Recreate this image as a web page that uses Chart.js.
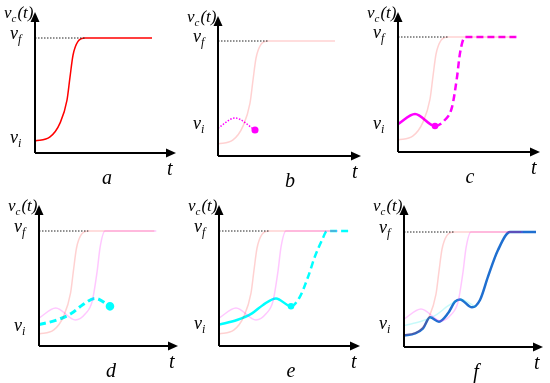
<!DOCTYPE html>
<html>
<head>
<meta charset="utf-8">
<script src="https://cdn.jsdelivr.net/npm/chart.js@4/dist/chart.umd.min.js"></script>
<style>
  body { margin: 0; background: #fff; }
  #wrap { position: relative; width: 550px; height: 383px; }
  #wrap canvas { position: absolute; }
</style>
</head>
<body>
<div id="wrap"></div>
<script>
// Curve data (t, v); v_f = 10
const redT = [0, 1.5, 2.5, 3.2, 3.5, 3.8, 4.3, 5, 11.7];
const redV = [1.04, 1.4, 2.6, 4.6, 6.6, 8.5, 9.7, 10, 10];

const magT = [0, 1.7, 3.7, 4.7, 5.4, 5.9, 6.2, 6.7, 11.9];
const magV = [2.43, 3.3, 2.26, 2.8, 3.9, 6.5, 8.6, 10, 10];
const magSplit = 2; // dashed after this point

const cyanT = [0, 1.8, 3.3, 4.4, 5.7, 7.2, 8.1, 8.9, 9.6, 10.3, 10.8, 13.3];
const cyanV = [1.86, 2.26, 2.84, 3.57, 4.14, 3.45, 4.3, 6.0, 7.8, 9.2, 10, 10];
const cyanSplit = 5;

const blueT = [0, 1.1, 1.9, 2.6, 3.5, 4.4, 5.1, 5.6, 6.8, 7.6, 8.4, 9.4, 10.6, 13.2];
const blueV = [0.99, 1.19, 1.62, 2.58, 2.2, 2.93, 3.94, 4.14, 3.45, 4.09, 6.12, 8.43, 10, 10];

const guideT = [0, 5];
const guideV = [10, 10];

const panelLetters = ["a", "b", "c", "d", "e", "f"];
const viLevels = [0.96, 2.43, 2.1, 1.4, 1.56, 1.65];
const vf = 10;

const FONT = '"Liberation Serif", "DejaVu Serif", serif';

function pts(T, V, n) {
  const k = n === undefined ? T.length : n;
  return T.slice(0, k).map((t, i) => ({ x: t, y: V[i] }));
}

const guide = () => ({
  data: pts(guideT, guideV), borderColor: "#222", borderWidth: 1, borderDash: [1.5, 1.5]
});
const fadedRed = () => ({ data: pts(redT, redV), borderColor: "rgba(255,0,0,0.18)", borderWidth: 1.5 });
const fadedMag = () => ({ data: pts(magT, magV), borderColor: "rgba(255,0,255,0.22)", borderWidth: 1.5 });
const fadedCyan = () => ({ data: pts(cyanT, cyanV, cyanSplit + 1), borderColor: "rgba(0,230,230,0.22)", borderWidth: 1.5 });

// dashed after split index, dot at split
function splitLine(T, V, split, color, width, n) {
  return {
    data: pts(T, V, n),
    borderColor: color, backgroundColor: color, borderWidth: width,
    segment: { borderDash: c => c.p0DataIndex >= split ? [7, 4] : undefined },
    pointRadius: c => c.dataIndex === split ? 2 : 0
  };
}

const panels = [
  { left: 0, top: 0, w: 185, h: 190, pad: { left: 35, right: 9, top: 12, bottom: 37 },
    sets: [guide(), { data: pts(redT, redV), borderColor: "#ff0000", borderWidth: 1.5 }] },
  { left: 185, top: 0, w: 185, h: 190, pad: { left: 33, right: 9, top: 16, bottom: 34 },
    sets: [guide(), fadedRed(),
      { data: pts(magT, magV, magSplit + 1), borderColor: "#ff00ff", backgroundColor: "#ff00ff",
        borderWidth: 1.5, borderDash: [1.5, 1.5], pointRadius: c => c.dataIndex === magSplit ? 2.8 : 0 }] },
  { left: 365, top: 0, w: 185, h: 190, pad: { left: 33, right: 10, top: 12, bottom: 38 },
    sets: [guide(), fadedRed(), splitLine(magT, magV, magSplit, "#ff00ff", 2.5)] },
  { left: 0, top: 190, w: 185, h: 193, pad: { left: 39, right: 5, top: 15, bottom: 37 },
    sets: [guide(), fadedRed(), fadedMag(),
      { data: pts(cyanT, cyanV, cyanSplit + 1), borderColor: "#00ffff", backgroundColor: "#00ffff",
        borderWidth: 3, borderDash: [7, 4], pointRadius: c => c.dataIndex === cyanSplit ? 2.8 : 0 }] },
  { left: 185, top: 190, w: 185, h: 193, pad: { left: 34, right: 10, top: 15, bottom: 37 },
    sets: [guide(), fadedRed(), fadedMag(), splitLine(cyanT, cyanV, cyanSplit, "#00ffff", 2.5)] },
  { left: 365, top: 190, w: 185, h: 193, pad: { left: 39, right: 7, top: 15, bottom: 36 },
    sets: [guide(), fadedRed(), fadedMag(), fadedCyan(),
      { data: pts(blueT, blueV), borderColor: "#1f6fd0", borderWidth: 2.5 }] }
];

function subText(ctx, x, y, main, sub, size, tail) {
  ctx.font = `italic ${size}px ${FONT}`;
  ctx.fillText(main, x, y);
  let w = ctx.measureText(main).width;
  const s = Math.round(size * 0.65);
  ctx.font = `italic ${s}px ${FONT}`;
  ctx.fillText(sub, x + w, y + size * 0.22);
  w += ctx.measureText(sub).width;
  if (tail) {
    ctx.font = `italic ${size}px ${FONT}`;
    ctx.fillText(tail, x + w + 1, y);
  }
}

// axes with arrows + labels
const schematic = {
  id: "schematic",
  afterDatasetsDraw(chart, args, opts) {
    const { ctx, chartArea: a, scales: { y } } = chart;
    const ox = a.left, oy = a.bottom;
    ctx.save();
    ctx.strokeStyle = "#000";
    ctx.fillStyle = "#000";
    ctx.lineWidth = 2;
    ctx.beginPath();
    ctx.moveTo(ox, oy); ctx.lineTo(ox, a.top + 7);
    ctx.moveTo(ox, oy); ctx.lineTo(a.right - 7, oy);
    ctx.stroke();
    ctx.beginPath();
    ctx.moveTo(ox, a.top); ctx.lineTo(ox - 4.5, a.top + 10); ctx.lineTo(ox + 4.5, a.top + 10);
    ctx.closePath(); ctx.fill();
    ctx.beginPath();
    ctx.moveTo(a.right, oy); ctx.lineTo(a.right - 10, oy - 4.5); ctx.lineTo(a.right - 10, oy + 4.5);
    ctx.closePath(); ctx.fill();

    ctx.textBaseline = "alphabetic";
    ctx.textAlign = "left";
    subText(ctx, ox - 31, a.top + 6, "v", "c", 17, "(t)");
    subText(ctx, ox - 25, y.getPixelForValue(vf) + 1, "v", "f", 18);
    subText(ctx, ox - 25, y.getPixelForValue(opts.vi) + 1, "v", "i", 18);
    ctx.font = `italic 20px ${FONT}`;
    ctx.fillText("t", a.right - 9, oy + 22);
    ctx.textAlign = "center";
    ctx.fillText(opts.letter, ox + 72, oy + 31);
    ctx.restore();
  }
};

const wrap = document.getElementById("wrap");
panels.forEach((p, i) => {
  const cv = document.createElement("canvas");
  cv.width = p.w; cv.height = p.h;
  cv.style.left = p.left + "px"; cv.style.top = p.top + "px";
  cv.style.width = p.w + "px"; cv.style.height = p.h + "px";
  wrap.appendChild(cv);
  const xMax = (p.w - p.pad.left - p.pad.right) / 10;
  const yMax = (p.h - p.pad.top - p.pad.bottom) / 11.5;
  new Chart(cv.getContext("2d"), {
    type: "line",
    data: { datasets: p.sets.map(s => Object.assign({ fill: false, pointRadius: 0, clip: false, cubicInterpolationMode: "monotone" }, s)) },
    options: {
      responsive: false, animation: false, devicePixelRatio: 1,
      layout: { padding: p.pad },
      scales: {
        x: { type: "linear", display: false, min: 0, max: xMax },
        y: { display: false, min: 0, max: yMax }
      },
      plugins: {
        legend: { display: false }, tooltip: { enabled: false },
        schematic: { letter: panelLetters[i], vi: viLevels[i] }
      }
    },
    plugins: [schematic]
  });
});
</script>
</body>
</html>
